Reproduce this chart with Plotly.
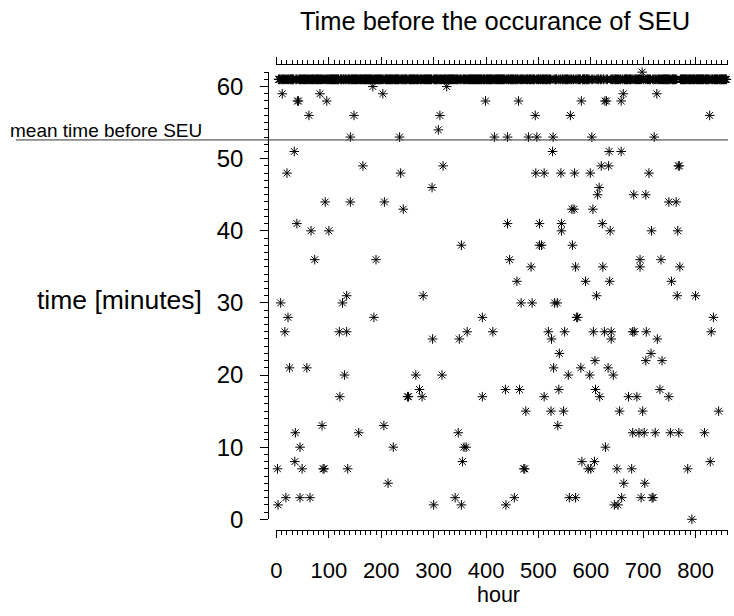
import plotly.graph_objects as go

# ---------------- data ----------------
title_text = "Time before the occurance of SEU"
x_label = "hour"
y_label = "time [minutes]"
mean_label = "mean time before SEU"

x_tick_vals = [0, 100, 200, 300, 400, 500, 600, 700, 800]
y_tick_vals = [0, 10, 20, 30, 40, 50, 60]

# hours with an SEU and the minutes before it occurred
seu_hours = [
    11, 40, 42, 83, 96, 62, 148, 141, 184, 203, 325, 399, 462, 582, 627, 630, 658, 662, 726, 698,
    312, 309, 494, 561, 827, 235, 416, 441, 481, 497, 528, 602, 721,
    34, 527, 635, 658,
    165, 318, 620, 634, 767, 769,
    20, 237, 495, 511, 543, 569, 599, 711,
    297, 616,
    613, 682, 705,
    93, 141, 206, 749, 763,
    242, 564, 568, 604,
    39, 441, 502, 544, 622,
    66, 100, 544, 637, 716, 766,
    353, 502, 506, 565,
    73, 190, 445, 694, 734,
    486, 571, 623, 694, 770,
    459, 590, 636, 754,
    134, 280, 611, 765, 800,
    8, 126, 467, 488, 531, 536,
    22, 186, 393, 573, 575, 834,
    16, 120, 134, 364, 413, 519, 550, 605, 626, 639, 680, 683, 706, 830,
    298, 349, 525, 639, 727,
    540, 715,
    608, 705, 736,
    25, 58, 529, 581, 633,
    130, 266, 316, 557, 598, 643,
    273, 437, 464, 539, 609, 732,
    121, 250, 252, 278, 393, 511, 617, 672, 688, 749,
    476, 524, 548, 655, 699, 844,
    87, 205, 537,
    36, 157, 347, 680, 692, 702, 723, 752, 768, 817,
    45, 223, 358, 362, 628,
    35, 355, 583, 607, 828,
    2, 49, 89, 91, 136, 472, 474, 595, 600, 650, 678, 785,
    213, 663, 703,
    18, 45, 64, 341, 454, 559, 571, 659, 696, 717, 719,
    3, 300, 353, 438, 645, 652,
    793,
]
seu_minutes = [
    59, 58, 58, 59, 58, 56, 56, 53, 60, 59, 60, 58, 58, 58, 58, 58, 58, 59, 59, 62,
    56, 54, 56, 56, 56, 53, 53, 53, 53, 53, 53, 53, 53,
    51, 51, 51, 51,
    49, 49, 49, 49, 49, 49,
    48, 48, 48, 48, 48, 48, 48, 48,
    46, 46,
    45, 45, 45,
    44, 44, 44, 44, 44,
    43, 43, 43, 43,
    41, 41, 41, 41, 41,
    40, 40, 40, 40, 40, 40,
    38, 38, 38, 38,
    36, 36, 36, 36, 36,
    35, 35, 35, 35, 35,
    33, 33, 33, 33,
    31, 31, 31, 31, 31,
    30, 30, 30, 30, 30, 30,
    28, 28, 28, 28, 28, 28,
    26, 26, 26, 26, 26, 26, 26, 26, 26, 26, 26, 26, 26, 26,
    25, 25, 25, 25, 25,
    23, 23,
    22, 22, 22,
    21, 21, 21, 21, 21,
    20, 20, 20, 20, 20, 20,
    18, 18, 18, 18, 18, 18,
    17, 17, 17, 17, 17, 17, 17, 17, 17, 17,
    15, 15, 15, 15, 15, 15,
    13, 13, 13,
    12, 12, 12, 12, 12, 12, 12, 12, 12, 12,
    10, 10, 10, 10, 10,
    8, 8, 8, 8, 8,
    7, 7, 7, 7, 7, 7, 7, 7, 7, 7, 7, 7,
    5, 5, 5,
    3, 3, 3, 3, 3, 3, 3, 3, 3, 3, 3,
    2, 2, 2, 2, 2, 2,
    0,
]

# hours without an SEU are plotted at 61 minutes
no_seu_value = 61
first_hour, last_hour = 2, 859
mean_time = 52.6

seu_set = set(seu_hours)
no_seu_hours = [h for h in range(first_hour, last_hour + 1) if h not in seu_set]
no_seu_minutes = [no_seu_value] * len(no_seu_hours)

# ---------------- layout helpers ----------------
W, H = 734, 616
def px_x(p):
    return p / W
def px_y(p):
    return 1 - p / H

FONT = "Liberation Sans, Arial, sans-serif"
x_range = [0, 862]
y_range = [0, 62]

marker_style = dict(symbol="asterisk-open", size=8, color="black",
                    line=dict(color="black", width=1))

fig = go.Figure()
fig.add_trace(go.Scatter(x=no_seu_hours, y=no_seu_minutes, mode="markers",
                         marker=marker_style, xaxis="x2", yaxis="y",
                         cliponaxis=False, showlegend=False, hoverinfo="skip"))
fig.add_trace(go.Scatter(x=seu_hours, y=seu_minutes, mode="markers",
                         marker=marker_style, xaxis="x", yaxis="y",
                         cliponaxis=False, showlegend=False))

axis_common = dict(showline=True, linecolor="black", linewidth=1, showgrid=False,
                   zeroline=False, ticks="outside", tickcolor="black", tickwidth=1)

fig.update_layout(
    width=W, height=H,
    margin=dict(l=0, r=0, t=0, b=0),
    paper_bgcolor="white", plot_bgcolor="white",
    showlegend=False,
    title=dict(text=title_text, x=px_x(495), y=px_y(21), xanchor="center", yanchor="middle",
               font=dict(family=FONT, size=25.5, color="black")),
    xaxis=dict(domain=[px_x(272.7), px_x(728)], range=x_range, anchor="free",
               position=px_y(541.7), tickmode="array", tickvals=x_tick_vals,
               ticktext=[str(v) for v in x_tick_vals], ticklen=7, ticklabelstandoff=13,
               tickfont=dict(family=FONT, size=22, color="black"),
               minor=dict(dtick=10, tick0=0, ticks="outside", ticklen=3.5,
                          tickcolor="black", tickwidth=1, showgrid=False),
               **axis_common),
    xaxis2=dict(overlaying="x", side="top", range=x_range, anchor="free",
                position=px_y(65), tickmode="array", tickvals=x_tick_vals,
                showticklabels=False, ticklen=7,
                minor=dict(dtick=10, tick0=0, ticks="outside", ticklen=3.5,
                           tickcolor="black", tickwidth=1, showgrid=False),
                **axis_common),
    yaxis=dict(domain=[px_y(530.5), px_y(73.7)], range=y_range, anchor="free",
               position=px_x(264.3), tickmode="array", tickvals=y_tick_vals,
               ticktext=[str(v) for v in y_tick_vals], ticklen=8, ticklabelstandoff=12,
               tickfont=dict(family=FONT, size=24, color="black"),
               minor=dict(dtick=1, tick0=0, ticks="outside", ticklen=4,
                          tickcolor="black", tickwidth=1, showgrid=False),
               **axis_common),
)

# mean line and its label
fig.add_shape(type="line", xref="paper", yref="y", x0=px_x(10), x1=px_x(728),
              y0=mean_time, y1=mean_time, line=dict(color="#333333", width=1))
fig.add_annotation(text=mean_label, xref="paper", yref="y", x=px_x(2), y=mean_time,
                   xanchor="left", yanchor="bottom", showarrow=False, yshift=-3,
                   font=dict(family=FONT, size=19, color="black"))

# axis titles
fig.add_annotation(text=y_label, xref="paper", yref="y", x=px_x(200), y=30.4,
                   xanchor="right", yanchor="middle", showarrow=False,
                   font=dict(family=FONT, size=26.5, color="black"))
fig.add_annotation(text=x_label, xref="paper", yref="paper", x=px_x(497), y=0,
                   xanchor="center", yanchor="bottom", showarrow=False, yshift=-6,
                   font=dict(family=FONT, size=21.5, color="black"))

fig.write_html("out.html", config={"displayModeBar": False},
               post_script="document.body.style.margin='0px';")
